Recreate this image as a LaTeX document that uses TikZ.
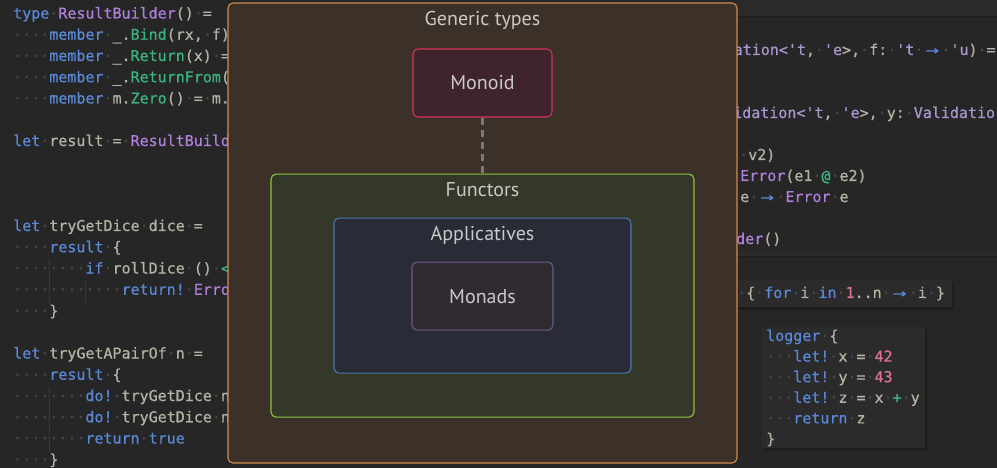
\documentclass[tikz,border=0pt]{standalone}
\usepackage{fontspec}
\setmainfont{PT Sans}
\setmonofont[RawFeature={embolden=0.6}]{DejaVu Sans Mono}
\usepackage{tikz}
\usetikzlibrary{positioning}

\definecolor{bgcol}{HTML}{262626}
\definecolor{stripcol}{HTML}{2A2A2A}
\definecolor{panelcol}{HTML}{2B2B2B}
\definecolor{shadowcol}{HTML}{1E1E1E}
\definecolor{codefg}{HTML}{B5B1A3}
\definecolor{codekw}{HTML}{5A87D6}
\definecolor{codety}{HTML}{B07FD9}
\definecolor{codetv}{HTML}{A995CF}
\definecolor{codefn}{HTML}{3BB57F}
\definecolor{codenum}{HTML}{E0709C}
\definecolor{codews}{HTML}{464646}
\definecolor{guidecol}{HTML}{383838}
\definecolor{titletext}{HTML}{C9C9C9}
\definecolor{genericfill}{HTML}{3B3128}
\definecolor{genericdraw}{HTML}{D28B4C}
\definecolor{monoidfill}{HTML}{3F232D}
\definecolor{monoiddraw}{HTML}{D8315B}
\definecolor{functorfill}{HTML}{343828}
\definecolor{functordraw}{HTML}{8CC43C}
\definecolor{applicfill}{HTML}{292C36}
\definecolor{applicdraw}{HTML}{4D76A6}
\definecolor{monadfill}{HTML}{302A33}
\definecolor{monaddraw}{HTML}{6C5A8C}
\definecolor{linkgray}{HTML}{7A7A7A}

% code colouring
\newcommand\ckw[1]{\textcolor{codekw}{#1}}
\newcommand\cty[1]{\textcolor{codety}{#1}}
\newcommand\ctv[1]{\textcolor{codetv}{#1}}
\newcommand\cfn[1]{\textcolor{codefn}{#1}}
\newcommand\cnum[1]{\textcolor{codenum}{#1}}
\newcommand\cws{\textcolor{codews}{·}}
\newcommand\carr{\makebox[1.204em]{\ckw{\scalebox{1.5}[1]{→}}}}

\begin{document}
\begin{tikzpicture}[x=1pt, y=-1pt,
        group/.style={rectangle, draw, rounded corners=5pt, line width=1.1pt, inner sep=0pt},
        grouptitle/.style={font=\fontsize{20}{24}\selectfont, text=titletext, inner sep=0pt, anchor=base},
        code/.style={anchor=base west, inner sep=0pt, font=\ttfamily\fontsize{15}{18}\selectfont, text=codefg},
        guide/.style={draw=guidecol, line width=0.8pt},
        link/.style={draw=linkgray, line width=2.6pt, dash pattern=on 7pt off 5pt}
    ]
        % Editor background
        \useasboundingbox (0,0) rectangle (997,468);
        \fill[bgcol] (0,0) rectangle (997,468);
        \fill[stripcol] (737,0) rectangle (997,17);
        \draw[shadowcol, line width=1pt] (737,17) -- (997,17);
        \fill[stripcol] (737,250) rectangle (997,256);
        \draw[shadowcol, line width=1pt] (737,256) -- (997,256);
        % Left code
        \node[code] (l_type) at (13,18.5) {\ckw{type}\cws \cty{ResultBuilder}()\cws =};
        \node[code] (l_bind) at (13,39.75) {\cws\cws\cws\cws \ckw{member}\cws \_.\cfn{Bind}(rx,\cws f)};
        \node[code] (l_return) at (13,61) {\cws\cws\cws\cws \ckw{member}\cws \_.\cfn{Return}(x)\cws =};
        \node[code] (l_returnfrom) at (13,82.25) {\cws\cws\cws\cws \ckw{member}\cws \_.\cfn{ReturnFrom}(};
        \node[code] (l_zero) at (13,103.5) {\cws\cws\cws\cws \ckw{member}\cws m.\cfn{Zero}()\cws =\cws m.};
        \node[code] (l_result) at (13,146) {\ckw{let}\cws result\cws =\cws \cty{ResultBuild}};
        \node[code] (l_dice) at (13,231) {\ckw{let}\cws tryGetDice\cws dice\cws =};
        \node[code] (l_dice_open) at (13,252.25) {\cws\cws\cws\cws \ckw{result}\cws \{};
        \node[code] (l_if) at (13,273.5) {\cws\cws\cws\cws\cws\cws\cws\cws \ckw{if}\cws rollDice\cws ()\cws \cfn{<}};
        \node[code] (l_error) at (13,294.75) {\cws\cws\cws\cws\cws\cws\cws\cws\cws\cws\cws\cws \ckw{return!}\cws \cty{Erro}};
        \node[code] (l_dice_close) at (13,316) {\cws\cws\cws\cws \}};
        \node[code] (l_pair) at (13,358.5) {\ckw{let}\cws tryGetAPairOf\cws n\cws =};
        \node[code] (l_pair_open) at (13,379.75) {\cws\cws\cws\cws \ckw{result}\cws \{};
        \node[code] (l_do_a) at (13,401) {\cws\cws\cws\cws\cws\cws\cws\cws \ckw{do!}\cws tryGetDice\cws n};
        \node[code] (l_do_b) at (13,422.25) {\cws\cws\cws\cws\cws\cws\cws\cws \ckw{do!}\cws tryGetDice\cws n};
        \node[code] (l_true) at (13,443.5) {\cws\cws\cws\cws\cws\cws\cws\cws \ckw{return}\cws \ckw{true}};
        \node[code] (l_pair_close) at (13,464.75) {\cws\cws\cws\cws \}};
        % Indent guides
        \draw[guide] (49,259) -- (49,303);
        \draw[guide] (85,281) -- (85,303);
        \draw[guide] (49,387) -- (49,451);
        % Right code
        \node[code] (r_map) at (724.5,55) {\ctv{dation<'t},\cws \ctv{'e}>,\cws f:\cws \ctv{'t}\cws \carr\cws \ctv{'u})\cws =};
        \node[code] (r_apply) at (733,118) {\ctv{idation<'t},\cws \ctv{'e}>,\cws y:\cws \ctv{Validatio}};
        \node[code] (r_ok) at (739,160) {\cws v2)};
        \node[code] (r_errors) at (740,181) {\cty{Error}(e1\cws \cfn{@}\cws e2)};
        \node[code] (r_error) at (740,202) {e\cws \carr\cws \cty{Error}\cws e};
        \node[code] (r_builder) at (736,244) {\cty{der}()};
        % Hint panels
        \fill[shadowcol] (730,282) rectangle (954,310);
        \fill[panelcol] (730,280) rectangle (952,307);
        \node[code] (r_for) at (737,298) {\cws\{\cws \ckw{for}\cws i\cws \ckw{in}\cws \cnum{1}..n\cws \carr\cws i\cws \}};
        \fill[shadowcol] (764,329) rectangle (927,451);
        \fill[panelcol] (762,327) rectangle (925,448);
        \node[code] (r_logger) at (766,341) {\ckw{logger}\cws \{};
        \node[code] (r_let_x) at (766,361.6) {\cws\cws\cws \ckw{let!}\cws x\cws =\cws \cnum{42}};
        \node[code] (r_let_y) at (766,382.2) {\cws\cws\cws \ckw{let!}\cws y\cws =\cws \cnum{43}};
        \node[code] (r_let_z) at (766,402.8) {\cws\cws\cws \ckw{let!}\cws z\cws =\cws x\cws \cfn{+}\cws y};
        \node[code] (r_return_z) at (766,423.4) {\cws\cws\cws \ckw{return}\cws z};
        \node[code] (r_close) at (766,444) {\}};
        % Generic types
        \node[group, fill=genericfill, draw=genericdraw, minimum width=509pt, minimum height=460pt] (generic) at (482.5,233) {};
        \node[grouptitle] (generic_title) at ([yshift=-23pt]generic.north) {Generic types};
        \node[group, fill=monoidfill, draw=monoiddraw, minimum width=139pt, minimum height=68pt, below=46pt of generic.north] (monoid) {};
        \node[grouptitle] (monoid_title) at ([yshift=-7pt]monoid.center) {Monoid};
        % Functors and below
        \node[group, fill=functorfill, draw=functordraw, minimum width=423pt, minimum height=243pt, below=56pt of monoid] (functors) {};
        \node[grouptitle] (functors_title) at ([yshift=-23pt]functors.north) {Functors};
        \node[group, fill=applicfill, draw=applicdraw, minimum width=297pt, minimum height=155pt, below=44pt of functors.north] (applicatives) {};
        \node[grouptitle] (applicatives_title) at ([yshift=-23pt]applicatives.north) {Applicatives};
        \node[group, fill=monadfill, draw=monaddraw, minimum width=141pt, minimum height=68pt, below=44pt of applicatives.north] (monads) {};
        \node[grouptitle] (monads_title) at ([yshift=-7pt]monads.center) {Monads};
        % Connections
        \path[link] (monoid) -- (functors);
    \end{tikzpicture}
\end{document}
